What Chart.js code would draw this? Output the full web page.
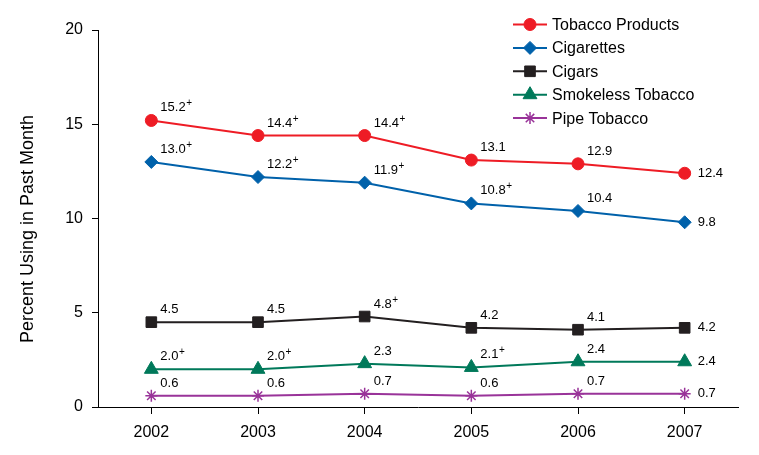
<!DOCTYPE html>
<html lang="en">
<head>
    <meta charset="UTF-8">
    <title>Tobacco Use in Past Month</title>
    <style>
        body { margin: 0; background: #fff; }
        #wrap { width: 759px; height: 455px; position: relative; }
    </style>
</head>
<body>
    <div id="wrap">
        <canvas id="myChart"></canvas>
    </div>

    <script src="https://cdn.jsdelivr.net/npm/chart.js"></script>
    <script>
        // data
        const years = ['2002', '2003', '2004', '2005', '2006', '2007'];
        const seriesNames = ['Tobacco Products', 'Cigarettes', 'Cigars', 'Smokeless Tobacco', 'Pipe Tobacco'];
        const tobacco   = [15.2, 14.4, 14.4, 13.1, 12.9, 12.4];
        const cigarettes = [13.0, 12.2, 11.9, 10.8, 10.4, 9.8];
        const cigars    = [4.5, 4.5, 4.8, 4.2, 4.1, 4.2];
        const smokeless = [2.0, 2.0, 2.3, 2.1, 2.4, 2.4];
        const pipe      = [0.6, 0.6, 0.7, 0.6, 0.7, 0.7];
        // "+" marks on the labels (difference significant vs 2007)
        const tobaccoSig   = [1, 1, 1, 0, 0, 0];
        const cigarettesSig = [1, 1, 1, 1, 0, 0];
        const cigarsSig    = [0, 0, 1, 0, 0, 0];
        const smokelessSig = [1, 1, 0, 1, 0, 0];
        const pipeSig      = [0, 0, 0, 0, 0, 0];
        const yTicks = [0, 5, 10, 15, 20];

        const colors = ['#EE1C25', '#0061AA', '#231F20', '#00795A', '#993399'];
        const markers = ['circle', 'rectRot', 'rect', 'triangle', 'star'];
        const markerSize = [6, 6.5, 7.5, 8, 6];
        const allData = [tobacco, cigarettes, cigars, smokeless, pipe];
        const allSig = [tobaccoSig, cigarettesSig, cigarsSig, smokelessSig, pipeSig];

        const datasets = allData.map((d, i) => ({
            label: seriesNames[i],
            data: d,
            sig: allSig[i],
            borderColor: colors[i],
            backgroundColor: colors[i],
            borderWidth: 2,
            pointStyle: markers[i],
            pointRadius: markerSize[i],
            pointBackgroundColor: colors[i],
            pointBorderColor: colors[i],
            pointBorderWidth: markers[i] === 'star' ? 1.5 : 1,
            tension: 0
        }));

        const FONT = 'Arial, "Liberation Sans", sans-serif';

        // value labels next to each point
        const valueLabels = {
            id: 'valueLabels',
            afterDatasetsDraw(chart) {
                const ctx = chart.ctx;
                ctx.save();
                ctx.fillStyle = '#000';
                chart.data.datasets.forEach((ds, di) => {
                    const meta = chart.getDatasetMeta(di);
                    meta.data.forEach((pt, i) => {
                        const txt = ds.data[i].toFixed(1);
                        ctx.font = '13px ' + FONT;
                        ctx.textAlign = 'left';
                        let tx, ty;
                        if (i === ds.data.length - 1) {
                            ctx.textBaseline = 'middle';
                            tx = pt.x + 13;
                            ty = pt.y;
                            ctx.fillText(txt, tx, ty);
                            return;
                        }
                        ctx.textBaseline = 'alphabetic';
                        tx = pt.x + 9;
                        ty = pt.y - 9;
                        ctx.fillText(txt, tx, ty);
                        if (ds.sig[i]) {
                            const w = ctx.measureText(txt).width;
                            ctx.font = '10px ' + FONT;
                            ctx.fillText('+', tx + w + 0.5, ty - 5);
                        }
                    });
                });
                ctx.restore();
            }
        };

        // legend box at top right, plus rotated y title
        const extras = {
            id: 'extras',
            afterDraw(chart) {
                const ctx = chart.ctx;
                ctx.save();
                chart.data.datasets.forEach((ds, i) => {
                    const y = 24.5 + i * 23.4;
                    ctx.strokeStyle = ds.borderColor;
                    ctx.lineWidth = 2;
                    ctx.beginPath();
                    ctx.moveTo(513, y);
                    ctx.lineTo(547, y);
                    ctx.stroke();
                    ctx.fillStyle = ds.borderColor;
                    ctx.lineWidth = ds.pointBorderWidth;
                    Chart.helpers.drawPoint(ctx, {
                        pointStyle: ds.pointStyle,
                        radius: ds.pointRadius,
                        borderWidth: ds.pointBorderWidth
                    }, 530, y);
                    ctx.fillStyle = '#000';
                    ctx.font = '16px ' + FONT;
                    ctx.textAlign = 'left';
                    ctx.textBaseline = 'middle';
                    ctx.fillText(ds.label, 552, y + 1);
                });

                ctx.translate(28, 229);
                ctx.rotate(-Math.PI / 2);
                ctx.fillStyle = '#000';
                ctx.font = '18px ' + FONT;
                ctx.textAlign = 'center';
                ctx.textBaseline = 'middle';
                ctx.fillText('Percent Using in Past Month', 0, 0);
                ctx.restore();
            }
        };

        const ctx = document.getElementById('myChart').getContext('2d');
        const myChart = new Chart(ctx, {
            type: 'line',
            data: {
                labels: years,
                datasets: datasets
            },
            options: {
                responsive: true,
                maintainAspectRatio: false,
                animation: false,
                layout: {
                    padding: { top: 30, right: 21, left: 0, bottom: 0 }
                },
                plugins: {
                    legend: { display: false },
                    tooltip: { enabled: false }
                },
                scales: {
                    x: {
                        offset: true,
                        border: { display: true, color: '#000', width: 1 },
                        grid: {
                            drawOnChartArea: false,
                            drawTicks: true,
                            tickLength: 7,
                            tickColor: '#000',
                            offset: false
                        },
                        ticks: {
                            color: '#000',
                            font: { family: FONT, size: 16 },
                            padding: 9,
                            maxRotation: 0
                        },
                        afterFit(scale) { scale.height = 48; }
                    },
                    y: {
                        min: yTicks[0],
                        max: yTicks[yTicks.length - 1],
                        border: { display: true, color: '#000', width: 1 },
                        grid: {
                            drawOnChartArea: false,
                            drawTicks: true,
                            tickLength: 6,
                            tickColor: '#000'
                        },
                        afterBuildTicks(scale) {
                            scale.ticks = yTicks.map(v => ({ value: v }));
                        },
                        ticks: {
                            color: '#000',
                            font: { family: FONT, size: 16 },
                            padding: 9
                        },
                        afterFit(scale) { scale.width = 98; }
                    }
                }
            },
            plugins: [valueLabels, extras]
        });
    </script>
</body>
</html>
